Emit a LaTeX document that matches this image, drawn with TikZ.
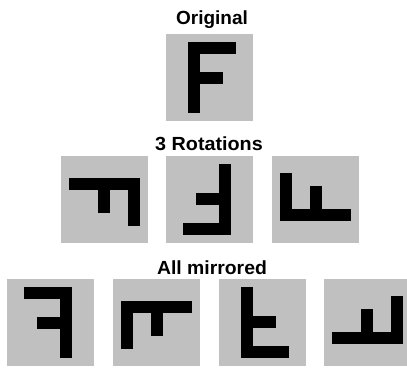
\documentclass[tikz,border=0pt]{standalone}
\usepackage{fontspec}
\setmainfont{Liberation Sans}
\definecolor{tilegray}{RGB}{192,192,192}
\tikzset{
  tilebg/.style={fill=tilegray},
  glyph/.style={fill=black},
  title/.style={anchor=base, inner sep=0pt, font=\fontsize{19}{21}\selectfont\bfseries}
}
\newcommand\ftile[3]{%
  \begin{scope}[shift={(#1,#2)}]
    \fill[tilebg] (0,0) rectangle (87,87);
    \foreach \a/\b/\c/\d in {#3} \fill[glyph] (\a,\b) rectangle (\c,\d);
  \end{scope}}
\begin{document}
\begin{tikzpicture}[x=1pt,y=-1pt]
  \useasboundingbox (0,0) rectangle (407,367);
  \clip (0,0) rectangle (407,367);
  % titles
  \node[title] (torig) at (212,24) {Original};
  \node[title, xscale=1.04] (trot) at (209,150) {3 Rotations};
  \node[title, xscale=1.02] (tmir) at (212,274) {All mirrored};
  % original
  \ftile{166}{34}{22/8/34/79, 22/8/70/20, 22/38/57/50}
  % rotations
  \ftile{61}{156}{8/22/79/34, 67/22/79/70, 37/22/49/57}
  \ftile{166}{156}{53/8/65/79, 17/67/65/79, 30/37/65/49}
  \ftile{272}{156}{8/53/79/65, 8/17/20/65, 38/30/50/65}
  % mirrored
  \ftile{7}{279}{53/8/65/79, 17/8/65/20, 30/38/65/50}
  \ftile{113}{279}{8/22/79/34, 8/22/20/70, 38/22/50/57}
  \ftile{219}{279}{22/8/34/79, 22/67/70/79, 22/37/57/49}
  \ftile{324}{279}{8/53/79/65, 67/17/79/65, 37/30/49/65}
\end{tikzpicture}
\end{document}
